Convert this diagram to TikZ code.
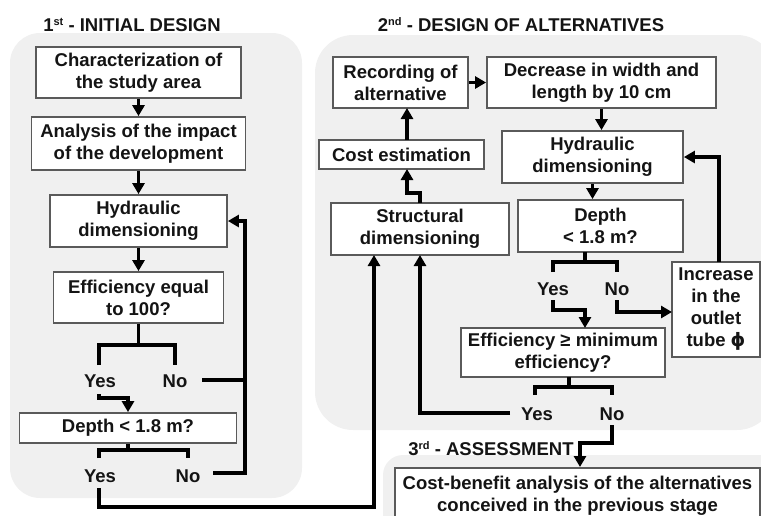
\documentclass[tikz,border=0pt]{standalone}
\usepackage{fontspec}
\setmainfont{Liberation Sans}
\newfontfamily\dejavu{DejaVu Sans}
\usetikzlibrary{arrows.meta}
\definecolor{panelgray}{RGB}{240,240,240}
\definecolor{boxedge}{RGB}{90,90,90}
\definecolor{inkc}{RGB}{20,20,20}
\newcommand{\supx}[1]{\raisebox{5.5pt}{\fontsize{11}{11}\selectfont\bfseries #1}}
\begin{document}
\begin{tikzpicture}[x=1pt,y=-1pt,
  txt/.style={font=\fontsize{18.5}{22}\selectfont\bfseries, text=inkc, align=center},
  box/.style={txt, draw=boxedge, line width=1.8pt, fill=white, inner sep=0pt},
  panel/.style={fill=panelgray},
  conn/.style={line width=3.1pt, draw=black},
  arr/.style={conn, -{Triangle[length=11pt,width=12pt]}},
  lab/.style={txt, inner sep=0pt, anchor=base},
  ttl/.style={txt, inner sep=0pt, anchor=base}
]
\useasboundingbox (0,0) rectangle (761,515);
% panels
\fill[panel, rounded corners=30pt] (10,33) rectangle (302,498);
\fill[panel, rounded corners=38pt] (315,35) rectangle (775,430);
\fill[panel, rounded corners=20pt] (383,455) rectangle (800,560);

% titles
\node[ttl] (t1) at (132,31) {1\supx{st} - INITIAL DESIGN};
\node[ttl] (t2) at (521,31) {2\supx{nd} - DESIGN OF ALTERNATIVES};
\node[ttl] (t3) at (491,455) {3\supx{rd} - ASSESSMENT};

% stage 1 boxes
\node[box, minimum width=205, minimum height=51] (char) at (138.5,72.5) {Characterization of\\the study area};
\node[box, minimum width=214, minimum height=53] (anal) at (138.5,143.5) {Analysis of the impact\\of the development};
\node[box, minimum width=177, minimum height=52] (hyd1) at (138.5,221) {Hydraulic\\dimensioning};
\node[box, minimum width=170, minimum height=51] (eff1) at (138.5,297.5) {Efficiency equal\\to 100?};
\node[box, minimum width=217, minimum height=30] (dep1) at (128,428) {Depth < 1.8 m?};

\node[lab] (y1) at (100,387) {Yes};
\node[lab] (n1) at (175,387) {No};
\node[lab] (y2) at (100,482) {Yes};
\node[lab] (n2) at (188,482) {No};

% stage 2 boxes
\node[box, minimum width=135, minimum height=51] (rec) at (400.5,82.5) {Recording of\\alternative};
\node[box, minimum width=229, minimum height=51] (dec) at (601.5,82.5) {Decrease in width and\\length by 10 cm};
\node[box, minimum width=165, minimum height=29] (cost) at (401.5,154.5) {Cost estimation};
\node[box, minimum width=181, minimum height=52] (hyd2) at (592.5,157) {Hydraulic\\dimensioning};
\node[box, minimum width=178, minimum height=52] (str) at (420,229) {Structural\\dimensioning};
\node[box, minimum width=165, minimum height=52] (dep2) at (600.5,226) {Depth\\< 1.8 m?};
\node[box, minimum width=88, minimum height=95] (inc) at (716,309.5) {Increase\\in the\\outlet\\tube {\dejavu\bfseries ϕ}};
\node[box, minimum width=204, minimum height=49] (effm) at (563,352.5) {Efficiency ≥ minimum\\efficiency?};

\node[lab] (y3) at (553,295) {Yes};
\node[lab] (n3) at (617,295) {No};
\node[lab] (y4) at (537,420) {Yes};
\node[lab] (n4) at (612,420) {No};

% stage 3 box
\node[box, anchor=north, minimum width=365, minimum height=56] (cba) at (577.5,467) {Cost-benefit analysis of the alternatives\\conceived in the previous stage};

% coordinates for connector corners
\coordinate (e1m) at (138.5,345);
\coordinate (e1l) at (99,365);
\coordinate (e1r) at (175,365);
\coordinate (y1s) at (99,394);
\coordinate (y1c) at (99,398);
\coordinate (n1s) at (202,380);
\coordinate (n1e) at (245,380);
\coordinate (n2s) at (213,473);
\coordinate (n2c) at (245,473);
\coordinate (d1m) at (128,450);
\coordinate (d1l) at (99,458);
\coordinate (d1r) at (188,458);
\coordinate (y2s) at (99,488);
\coordinate (y2c) at (99,507);
\coordinate (s1in) at (374,255);

\coordinate (d2m) at (585,262);
\coordinate (d2t) at (585,252);
\coordinate (d2l) at (553,272);
\coordinate (d2r) at (617,272);
\coordinate (y3s) at (553,300);
\coordinate (y3c) at (553,310);
\coordinate (efin) at (585,328);
\coordinate (n3s) at (617,300);
\coordinate (n3c) at (617,312);
\coordinate (incin) at (672,312);
\coordinate (incup) at (719,262);
\coordinate (hyin) at (719,157);
\coordinate (strup) at (420,203);
\coordinate (strc1) at (420,193);
\coordinate (strc2) at (407,193);
\coordinate (costin) at (407,169);
\coordinate (costout) at (407,140);
\coordinate (recin) at (407,108);
\coordinate (emt) at (569,377);
\coordinate (emm) at (569,387);
\coordinate (eml) at (535,395);
\coordinate (emr) at (612,395);
\coordinate (y4s) at (510,413);
\coordinate (y4c) at (420,413);
\coordinate (s2in) at (420,255);
\coordinate (n4s) at (612,425);
\coordinate (n4c) at (612,443);
\coordinate (n4d) at (580,443);
\coordinate (cbain) at (580,467);

% stage 1 connectors
\draw[arr] (char.south) -- (anal.north);
\draw[arr] (anal.south) -- (hyd1.north);
\draw[arr] (hyd1.south) -- (eff1.north);
\draw[conn] (eff1.south) -- (e1m);
\draw[conn] (e1l) |- (e1m) -| (e1r);
\draw[arr] (y1s) -- (y1c) -| (dep1.north);
\draw[conn] (n1s) -- (n1e);
\draw[arr] (n2s) -- (n2c) |- (hyd1.east);
\draw[conn] (dep1.south) -- (d1m);
\draw[conn] (d1l) |- (d1m) -| (d1r);
\draw[arr] (y2s) -- (y2c) -| (s1in);

% stage 2 connectors
\draw[arr] (rec.east) -- (dec.west);
\draw[arr] (dec.south) -- (dec.south |- hyd2.north);
\draw[arr] (hyd2.south) -- (hyd2.south |- dep2.north);
\draw[conn] (d2t) -- (d2m);
\draw[conn] (d2l) |- (d2m) -| (d2r);
\draw[arr] (y3s) -- (y3c) -| (efin);
\draw[arr] (n3s) -- (n3c) -- (incin);
\draw[arr] (incup) -- (hyin) -- (hyd2.east);
\draw[arr] (strup) -- (strc1) -- (strc2) -- (costin);
\draw[arr] (costout) -- (recin);
\draw[conn] (emt) -- (emm);
\draw[conn] (eml) |- (emm) -| (emr);
\draw[arr] (y4s) -- (y4c) -- (s2in);
\draw[arr] (n4s) -- (n4c) -- (n4d) -- (cbain);
\end{tikzpicture}
\end{document}
